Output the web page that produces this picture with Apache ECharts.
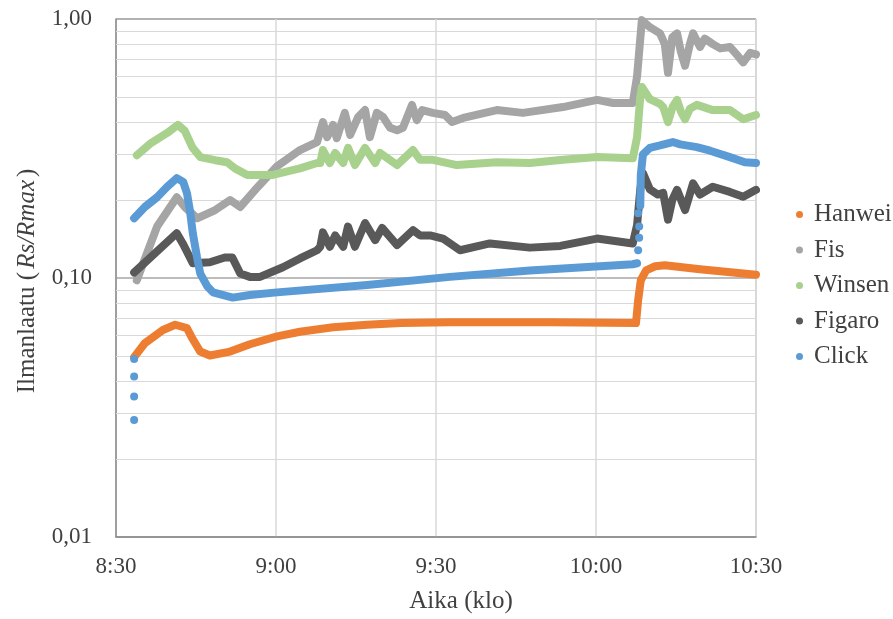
<!DOCTYPE html>
<html>
<head>
<meta charset="utf-8">
<script src="https://cdn.jsdelivr.net/npm/echarts@6/dist/echarts.min.js"></script>
<style>
html,body{margin:0;padding:0;background:#fff;}
#chart{width:893px;height:619px;}
</style>
</head>
<body>
<div id="chart"></div>
<script>
// ---- data (time in minutes since midnight, value = Rs/Rmax) ----
const SERIES_NAMES = ['Hanwei', 'Fis', 'Winsen', 'Figaro', 'Click'];
const COLORS = ['#ED7D31', '#A5A5A5', '#A9D18E', '#595959', '#5B9BD5'];
const X_TICK_LABELS = ['8:30', '9:00', '9:30', '10:00', '10:30'];
const Y_TICK_LABELS = ['0,01', '0,10', '1,00'];
const MINOR_Y = [0.02,0.03,0.04,0.05,0.06,0.07,0.08,0.09,0.2,0.3,0.4,0.5,0.6,0.7,0.8,0.9];

const HANWEI = [[513.4,0.0495],[515.4,0.056],[518.8,0.063],[521.1,0.066],[523.3,0.064],[524.4,0.058],[525.8,0.052],[527.6,0.0502],[531.4,0.052],[535.1,0.0555],[540.2,0.0595],[544.5,0.062],[550.7,0.0645],[557.1,0.066],[563.3,0.067],[572.6,0.0675],[591.4,0.0675],[607.5,0.067],[607.9,0.082],[608.4,0.098],[609.4,0.107],[611.1,0.111],[612.9,0.112],[619.5,0.108],[630,0.103]];

const FIS = [[513.9,0.098],[517.7,0.158],[521.4,0.205],[522.9,0.188],[525.2,0.17],[528.6,0.183],[531.4,0.2],[533.3,0.188],[536.1,0.219],[540.2,0.27],[544.5,0.312],[547.7,0.335],[548.8,0.40],[549.6,0.35],[550.7,0.39],[551.4,0.347],[552.9,0.434],[553.9,0.357],[555.4,0.418],[556.7,0.445],[557.6,0.35],[558.9,0.434],[560.1,0.418],[561.4,0.38],[562.7,0.372],[563.8,0.38],[565.5,0.466],[566.4,0.407],[567.4,0.445],[569.4,0.434],[571.7,0.426],[573.0,0.40],[575.1,0.415],[581.4,0.445],[586.3,0.434],[593.8,0.457],[600.2,0.487],[603.2,0.474],[606.9,0.474],[607.7,0.6],[608.6,0.99],[610.1,0.93],[612.0,0.88],[612.9,0.8],[613.5,0.62],[614.3,0.85],[615.2,0.88],[615.9,0.75],[616.7,0.66],[617.6,0.8],[618.2,0.88],[619.5,0.78],[620.4,0.84],[621.9,0.80],[623.3,0.77],[625.1,0.78],[626.6,0.72],[627.6,0.68],[628.9,0.74],[630,0.73]];

const WINSEN = [[513.9,0.298],[516.4,0.33],[519.6,0.363],[521.6,0.39],[522.9,0.37],[524.3,0.32],[525.8,0.293],[528.6,0.285],[530.8,0.28],[532.3,0.265],[534.6,0.25],[539.4,0.25],[544.5,0.265],[547.7,0.278],[548.3,0.278],[548.8,0.312],[550.1,0.278],[551.1,0.304],[552.6,0.278],[553.5,0.318],[554.8,0.273],[556.7,0.318],[558.6,0.278],[559.5,0.304],[562.7,0.273],[565.7,0.312],[567.0,0.286],[569.4,0.286],[573.9,0.273],[581.4,0.28],[587.6,0.278],[593.8,0.286],[600.2,0.293],[606.9,0.29],[607.7,0.35],[608.3,0.5],[608.6,0.546],[610.1,0.49],[612.0,0.47],[612.6,0.457],[613.5,0.40],[614.4,0.46],[615.2,0.487],[615.9,0.44],[616.7,0.41],[617.6,0.45],[618.9,0.466],[621.9,0.445],[625.1,0.445],[627.6,0.41],[630,0.426]];

const FIGARO = [[513.4,0.105],[521.4,0.149],[522.6,0.135],[524.4,0.114],[527.6,0.115],[530.4,0.12],[531.8,0.12],[533.3,0.104],[535.1,0.101],[537.0,0.101],[541.3,0.110],[544.5,0.119],[547.7,0.128],[548.3,0.132],[548.8,0.150],[550.1,0.132],[551.1,0.146],[552.6,0.132],[553.5,0.158],[554.8,0.132],[556.7,0.163],[558.6,0.14],[559.9,0.156],[562.7,0.134],[565.7,0.153],[567.0,0.146],[568.9,0.146],[571.3,0.142],[574.5,0.128],[580.1,0.136],[587.6,0.131],[593.3,0.133],[600.2,0.142],[606.9,0.136],[607.7,0.16],[608.3,0.22],[608.8,0.254],[610.1,0.22],[611.6,0.21],[612.6,0.213],[613.5,0.168],[614.3,0.2],[615.2,0.219],[616.7,0.183],[618.2,0.232],[619.5,0.21],[621.9,0.225],[625.1,0.215],[627.6,0.206],[630,0.219]];

const CLICK_A = [[513.4,0.170],[515.4,0.188],[517.7,0.205],[519.6,0.225],[521.4,0.243],[522.6,0.235],[523.3,0.213],[523.9,0.18],[524.4,0.149],[525.2,0.12],[525.8,0.104],[527.1,0.093],[528.2,0.088],[531.9,0.084],[535.1,0.086],[540.2,0.088],[557.1,0.094],[572.6,0.101],[587.6,0.107],[606.9,0.113],[607.7,0.114]];
const CLICK_B = [[608.3,0.19],[608.4,0.25],[608.8,0.30],[610.1,0.318],[612.0,0.325],[614.4,0.335],[615.8,0.328],[618.9,0.32],[621.4,0.31],[625.1,0.293],[627.9,0.28],[630,0.278]];
const CLICK_DOTS = [[513.4,0.0283],[513.4,0.0349],[513.4,0.0417],[513.4,0.0487],[607.9,0.128],[608.1,0.143],[608.1,0.158],[607.9,0.178]];

// ---- chart ----
const FONT = '"Liberation Serif", "Times New Roman", serif';
const TEXT_COLOR = '#404040';

function lineSeries(name, data, color) {
  return {
    name: name, type: 'line', data: data, z: 3,
    showSymbol: false, symbol: 'circle', symbolSize: 8,
    itemStyle: { color: color },
    lineStyle: { color: color, width: 8, cap: 'round', join: 'round' },
    animation: false, silent: true
  };
}

const series = [
  {
    type: 'line', data: [], z: 1, silent: true, animation: false,
    markLine: {
      z: 1, silent: true, animation: false, symbol: ['none', 'none'],
      label: { show: false },
      lineStyle: { color: '#d9d9d9', width: 1, type: 'solid' },
      data: MINOR_Y.map(v => ({ yAxis: v }))
    }
  },
  lineSeries(SERIES_NAMES[0], HANWEI, COLORS[0]),
  lineSeries(SERIES_NAMES[1], FIS, COLORS[1]),
  lineSeries(SERIES_NAMES[2], WINSEN, COLORS[2]),
  lineSeries(SERIES_NAMES[3], FIGARO, COLORS[3]),
  lineSeries(SERIES_NAMES[4], CLICK_A, COLORS[4]),
  lineSeries(SERIES_NAMES[4], CLICK_B, COLORS[4]),
  {
    name: SERIES_NAMES[4], type: 'scatter', data: CLICK_DOTS, z: 3,
    symbol: 'circle', symbolSize: 8, itemStyle: { color: COLORS[4], opacity: 1 },
    animation: false, silent: true
  }
];

const chart = echarts.init(document.getElementById('chart'), null, { renderer: 'canvas' });
chart.setOption({
  backgroundColor: '#ffffff',
  animation: false,
  textStyle: { fontFamily: FONT },
  grid: {
    left: 116, right: 137, top: 19, bottom: 82,
    show: true, borderColor: '#b0b0b0', borderWidth: 1, backgroundColor: 'transparent'
  },
  legend: {
    data: SERIES_NAMES.map(n => ({ name: n, icon: 'circle' })),
    orient: 'vertical', left: 791, top: 197,
    itemWidth: 7, itemHeight: 7, itemGap: 10.5,
    selectedMode: false,
    textStyle: { fontFamily: FONT, fontSize: 25, color: TEXT_COLOR, lineHeight: 24, padding: [0, 0, 0, 6] }
  },
  xAxis: {
    type: 'value', min: 510, max: 630, interval: 30,
    axisLine: { show: true, onZero: false, lineStyle: { color: '#8c8c8c', width: 1.5 } },
    axisTick: { show: false },
    splitLine: { show: true, lineStyle: { color: '#d9d9d9', width: 1.5 } },
    axisLabel: {
      margin: 18, fontFamily: FONT, fontSize: 23, color: TEXT_COLOR,
      formatter: v => X_TICK_LABELS[Math.round((v - 510) / 30)]
    }
  },
  yAxis: {
    type: 'log', logBase: 10, min: 0.01, max: 1,
    axisLine: { show: true, lineStyle: { color: '#8c8c8c', width: 1.5 } },
    axisTick: { show: false },
    splitLine: { show: true, lineStyle: { color: '#a6a6a6', width: 1.5 } },
    axisLabel: {
      margin: 24, fontFamily: FONT, fontSize: 23, color: TEXT_COLOR,
      formatter: v => Y_TICK_LABELS[Math.round(Math.log10(v)) + 2]
    }
  },
  graphic: [
    {
      type: 'text', x: 461, y: 601, z: 10, silent: true,
      style: {
        text: 'Aika (klo)', fill: TEXT_COLOR,
        font: '25px ' + FONT,
        align: 'center', verticalAlign: 'middle',
        textAlign: 'center', textVerticalAlign: 'middle'
      }
    },
    {
      type: 'text', x: 27, y: 281, rotation: Math.PI / 2, z: 10, silent: true,
      style: {
        text: '{n|Ilmanlaatu (}{i|Rs/Rmax}{n|)}',
        fill: TEXT_COLOR,
        font: '25px ' + FONT,
        align: 'center', verticalAlign: 'middle',
        textAlign: 'center', textVerticalAlign: 'middle',
        rich: {
          n: { fontFamily: FONT, fontSize: 25, fill: TEXT_COLOR, color: TEXT_COLOR },
          i: { fontFamily: FONT, fontSize: 25, fontStyle: 'italic', fill: TEXT_COLOR, color: TEXT_COLOR, padding: [0, 3, 0, 3] }
        }
      }
    }
  ],
  series: series
});
</script>
</body>
</html>
